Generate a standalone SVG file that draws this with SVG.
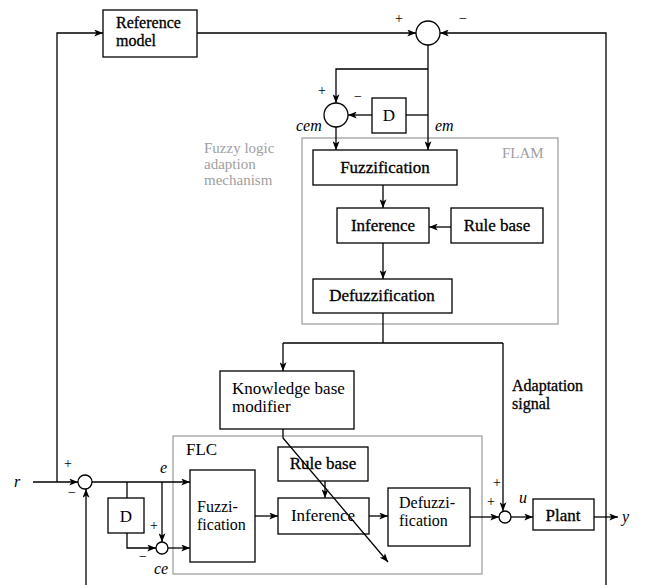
<svg xmlns="http://www.w3.org/2000/svg" width="646" height="585" viewBox="0 0 646 585">
<defs>
<marker id="ah" viewBox="0 0 10 8" refX="10" refY="4" markerWidth="10" markerHeight="7" markerUnits="userSpaceOnUse" orient="auto">
<path d="M0,0 L10,4 L0,8 L2.5,4 z" fill="#000"/>
</marker>
<style>
.box{fill:#fff;stroke:#000;stroke-width:1.3}
.grp{fill:none;stroke:#9a9a9a;stroke-width:1.2}
.sum{fill:#fff;stroke:#000;stroke-width:1.3}
.t{font-family:"Liberation Serif","Times New Roman",serif;font-size:17px;fill:#000}
.t2{font-family:"Liberation Serif","Times New Roman",serif;font-size:16px;fill:#000}
.tb{font-family:"Liberation Serif","Times New Roman",serif;font-size:17px;fill:#000;stroke:#000;stroke-width:0.3}
.tb2{font-family:"Liberation Serif","Times New Roman",serif;font-size:16px;fill:#000;stroke:#000;stroke-width:0.3}
.it{font-family:"Liberation Serif","Times New Roman",serif;font-size:16px;font-style:italic;fill:#000}
.sg{font-family:"Liberation Serif","Times New Roman",serif;font-size:14px;fill:#000}
.gr{font-family:"Liberation Serif","Times New Roman",serif;font-size:15px;fill:#a0a0a0}
.c{fill:none;stroke:#000;stroke-width:1.3}
.a{fill:none;stroke:#000;stroke-width:1.3;marker-end:url(#ah)}
</style>
</defs>
<rect width="646" height="585" fill="#fff"/>

<g id="flam-group">
<rect class="grp" x="302" y="138" width="256" height="186"/>
<text class="gr" x="502" y="158">FLAM</text>
<text class="gr" x="204" y="153">Fuzzy logic</text>
<text class="gr" x="204" y="169">adaption</text>
<text class="gr" x="204" y="185">mechanism</text>
</g>
<g id="flc-group">
<rect class="grp" x="173" y="436" width="309" height="138"/>
<text class="t" x="186" y="455">FLC</text>
</g>

<g id="reference-model">
<rect class="box" x="103" y="10" width="94" height="47"/>
<text class="tb2" x="116" y="28">Reference</text>
<text class="tb2" x="116" y="46">model</text>
</g>
<g id="sum-top"><circle class="sum" cx="428" cy="33" r="12"/>
<text class="sg" x="395" y="23">+</text><text class="sg" x="459" y="23">−</text></g>
<g id="sum-cem"><circle class="sum" cx="336" cy="115" r="12"/>
<text class="sg" x="318" y="95">+</text><text class="sg" x="354" y="101">−</text>
<text class="it" x="296" y="131">cem</text></g>
<g id="delay-flam"><rect class="box" x="372" y="98" width="34" height="35"/>
<text class="t" x="389" y="121" text-anchor="middle">D</text></g>
<text class="it" x="435" y="131" id="label-em">em</text>

<g id="flam-fuzzification"><rect class="box" x="313" y="150" width="144" height="35"/>
<text class="tb" x="385" y="173" text-anchor="middle">Fuzzification</text></g>
<g id="flam-inference"><rect class="box" x="337" y="208" width="92" height="35"/>
<text class="tb" x="383" y="231" text-anchor="middle">Inference</text></g>
<g id="flam-rulebase"><rect class="box" x="451" y="208" width="92" height="35"/>
<text class="tb" x="497" y="231" text-anchor="middle">Rule base</text></g>
<g id="flam-defuzzification"><rect class="box" x="313" y="279" width="139" height="34"/>
<text class="tb" x="382" y="301" text-anchor="middle">Defuzzification</text></g>

<g id="kb-modifier"><rect class="box" x="220" y="371" width="134" height="58"/>
<text class="t" x="232" y="394">Knowledge base</text>
<text class="t" x="232" y="412">modifier</text></g>
<g id="adaptation-label">
<text class="tb2" x="512" y="391">Adaptation</text>
<text class="tb2" x="512" y="409">signal</text></g>

<g id="sum-r"><circle class="sum" cx="85" cy="482" r="7"/>
<text class="sg" x="64" y="468">+</text><text class="sg" x="68" y="497">−</text></g>
<text class="it" x="14" y="487" id="label-r">r</text>
<text class="it" x="160" y="473" id="label-e">e</text>
<g id="delay-flc"><rect class="box" x="108" y="498" width="36" height="35"/>
<text class="t" x="126" y="522" text-anchor="middle">D</text></g>
<g id="sum-ce"><circle class="sum" cx="162" cy="548" r="6"/>
<text class="sg" x="150" y="530">+</text><text class="sg" x="139" y="561">−</text>
<text class="it" x="154" y="574">ce</text></g>

<g id="flc-fuzzification"><rect class="box" x="190" y="470" width="65" height="92"/>
<text class="t2" x="197" y="512">Fuzzi-</text>
<text class="t2" x="197" y="530">fication</text></g>
<g id="flc-rulebase"><rect class="box" x="278" y="447" width="90" height="34"/>
<text class="tb" x="323" y="469" text-anchor="middle">Rule base</text></g>
<g id="flc-inference"><rect class="box" x="278" y="498" width="91" height="36"/>
<text class="t" x="323" y="521" text-anchor="middle">Inference</text></g>
<g id="flc-defuzzification"><rect class="box" x="388" y="488" width="82" height="58"/>
<text class="t2" x="399" y="508">Defuzzi-</text>
<text class="t2" x="399" y="526">fication</text></g>
<g id="sum-u"><circle class="sum" cx="505" cy="517" r="6"/>
<text class="sg" x="493" y="487">+</text><text class="sg" x="487" y="506">+</text>
<text class="it" x="519" y="503">u</text></g>
<g id="plant"><rect class="box" x="533" y="499" width="61" height="31"/>
<text class="tb" x="563" y="521" text-anchor="middle">Plant</text></g>
<text class="it" x="622" y="522" id="label-y">y</text>

<g id="connectors">
<path class="a" d="M57,482 V33 H103"/>
<path class="a" d="M197,33 H416"/>
<path class="a" d="M606,585 V33 H440"/>
<path class="a" d="M428,45 V150"/>
<path class="a" d="M428,69 H336 V103"/>
<path class="c" d="M428,115 H406"/>
<path class="a" d="M372,115 H348"/>
<path class="a" d="M336,127 V150"/>
<path class="a" d="M383,185 V208"/>
<path class="a" d="M451,227 H429"/>
<path class="a" d="M383,243 V279"/>
<path class="c" d="M383,313 V343"/>
<path class="c" d="M283,343 H503"/>
<path class="a" d="M283,343 V371"/>
<path class="a" d="M503,343 V511"/>
<path class="a" d="M283,429 V438 L388,562"/>
<path class="a" d="M33,482 H78"/>
<path class="a" d="M86,585 V489"/>
<path class="a" d="M92,482 H190"/>
<path class="c" d="M127,482 V498"/>
<path class="a" d="M127,533 V548 H156"/>
<path class="a" d="M162,482 V542"/>
<path class="a" d="M168,548 H190"/>
<path class="a" d="M255,516 H278"/>
<path class="a" d="M325,481 V498"/>
<path class="a" d="M369,516 H388"/>
<path class="a" d="M470,517 H499"/>
<path class="a" d="M511,517 H533"/>
<path class="a" d="M594,517 H618"/>
</g>
</svg>
